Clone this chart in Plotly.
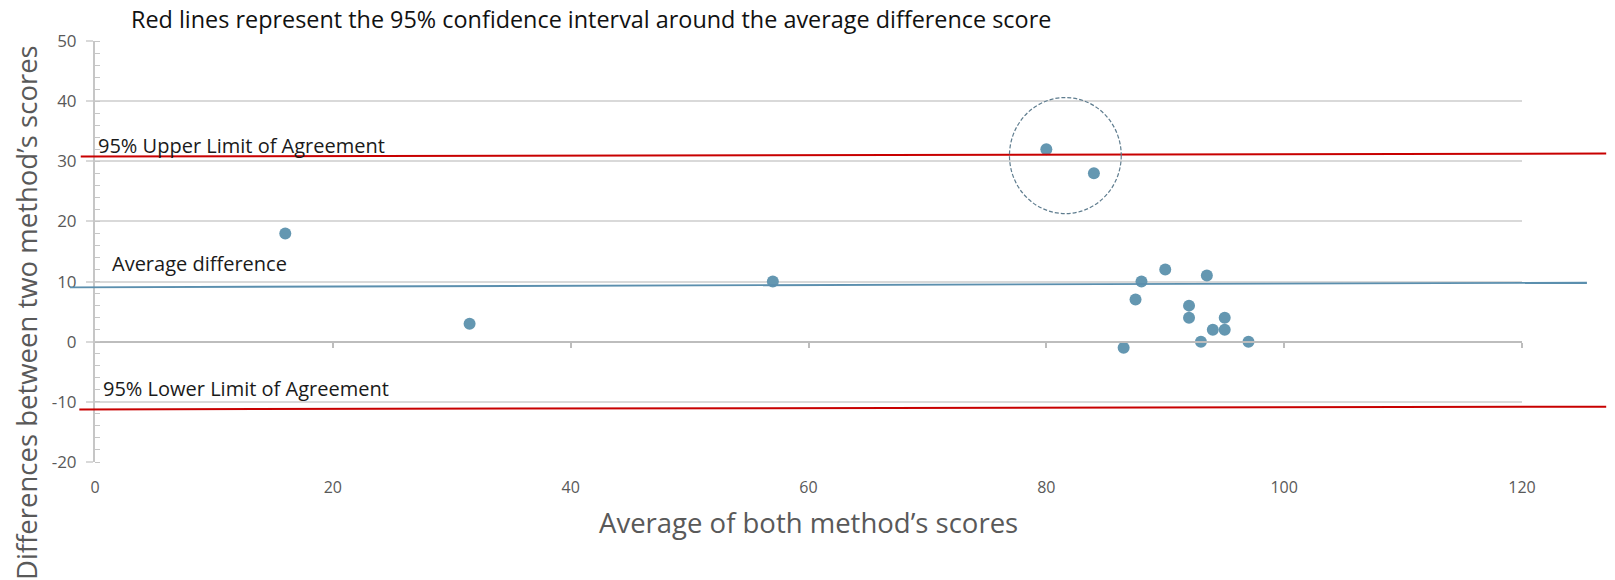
import plotly.graph_objects as go

# Bland-Altman style data: mean of the two methods vs. their difference
avg_scores = [16, 31.5, 57, 80, 84, 86.5, 87.5, 88, 90, 92, 92, 93, 93.5, 94, 95, 95, 97]
diff_scores = [18, 3, 10, 32, 28, -1, 7, 10, 12, 6, 4, 0, 11, 2, 4, 2, 0]

# Reference lines (value at left end, value at right end)
upper_loa = [30.8, 31.3]
mean_diff = [9.05, 9.8]
lower_loa = [-11.25, -10.8]

# Highlighted region around the two outlying points
outlier_box_x = [76.9, 86.3]
outlier_box_y = [21.3, 40.6]

x_ticks = [0, 20, 40, 60, 80, 100, 120]
y_ticks = [-20, -10, 0, 10, 20, 30, 40, 50]
y_tick_text = [str(v) for v in y_ticks]

FONT = "Open Sans"
TICK_GREY = "#595959"
GRID = "#d9d9d9"
AXIS = "#c6c6c6"
DOT = "#6497b1"
RED = "#c80000"

fig = go.Figure()

fig.add_trace(go.Scatter(
    x=avg_scores, y=diff_scores, mode="markers",
    marker=dict(size=12, color=DOT, line=dict(width=0)),
    showlegend=False, hoverinfo="x+y",
))
# empty trace so the overlay axis along y = 0 is drawn
fig.add_trace(go.Scatter(x=[], y=[], xaxis="x2", showlegend=False))

# reference lines, running past the plot edges
for vals, color, x0 in [(upper_loa, RED, -0.010), (lower_loa, RED, -0.011), (mean_diff, "#5b8fae", -0.0175)]:
    fig.add_shape(type="line", xref="paper", yref="y",
                  x0=x0, x1=1.059 if color == RED else 1.0455,
                  y0=vals[0], y1=vals[1],
                  line=dict(color=color, width=2 if color == RED else 1.8), layer="above")

fig.add_shape(type="circle", xref="x", yref="y",
              x0=outlier_box_x[0], x1=outlier_box_x[1],
              y0=outlier_box_y[0], y1=outlier_box_y[1],
              line=dict(color="#5f7d8f", width=1.2, dash="4px,2px"))

ann_font = dict(family=FONT, size=20, color="#1a1a1a")
fig.add_annotation(text="95% Upper Limit of Agreement", xref="paper", yref="y",
                   x=0.0005, y=upper_loa[0] + 1.9, xanchor="left", yanchor="middle",
                   showarrow=False, font=ann_font)
fig.add_annotation(text="Average difference", xref="paper", yref="y",
                   x=0.0105, y=mean_diff[0] + 3.9, xanchor="left", yanchor="middle",
                   showarrow=False, font=ann_font)
fig.add_annotation(text="95% Lower Limit of Agreement", xref="paper", yref="y",
                   x=0.004, y=lower_loa[0] + 3.4, xanchor="left", yanchor="middle",
                   showarrow=False, font=ann_font)

fig.add_annotation(text="Red lines represent the 95% confidence interval around the average difference score",
                   xref="paper", yref="paper", x=0.0238, y=1.052, xanchor="left", yanchor="middle",
                   showarrow=False, font=dict(family=FONT, size=23.4, color="#111111"))

fig.add_annotation(text="Average of both method\u2019s scores", xref="paper", yref="paper",
                   x=0.5, y=-0.143, xanchor="center", yanchor="middle", showarrow=False,
                   font=dict(family=FONT, size=27.5, color=TICK_GREY))
fig.add_annotation(text="Differences between two method\u2019s scores", xref="paper", yref="paper",
                   x=-0.0484, y=0.356, xanchor="center", yanchor="middle", textangle=-90,
                   showarrow=False, font=dict(family=FONT, size=27.5, color=TICK_GREY))

fig.update_layout(
    width=1615, height=580,
    margin=dict(l=95, r=93, t=41, b=118),
    plot_bgcolor="white", paper_bgcolor="white",
    font=dict(family=FONT, color=TICK_GREY),
    xaxis=dict(range=[0, 120], tickvals=x_ticks, showgrid=False, zeroline=False,
               showline=False, ticks="", tickfont=dict(size=16, color=TICK_GREY),
               ticklabelstandoff=14, fixedrange=True),
    xaxis2=dict(range=[0, 120], overlaying="x", anchor="free", position=20 / 70,
                side="bottom", tickvals=x_ticks[1:], showticklabels=False, showgrid=False,
                zeroline=False, showline=True, linecolor="#bdbdbd", linewidth=2,
                ticks="outside", ticklen=5, tickwidth=1.5, tickcolor="#bdbdbd"),
    yaxis=dict(range=[-20, 50], tickvals=y_ticks, ticktext=y_tick_text,
               showgrid=True, gridcolor=GRID, gridwidth=1.5,
               zeroline=False, showline=True, linecolor=AXIS, linewidth=2,
               ticks="outside", ticklen=7, tickwidth=1.5, tickcolor=GRID,
               tickfont=dict(size=17, color=TICK_GREY), ticklabelstandoff=6,
               minor=dict(dtick=2, ticks="inside", ticklen=5, tickwidth=1.2,
                          tickcolor=AXIS, showgrid=False),
               fixedrange=True),
)

fig.write_html("out.html")
